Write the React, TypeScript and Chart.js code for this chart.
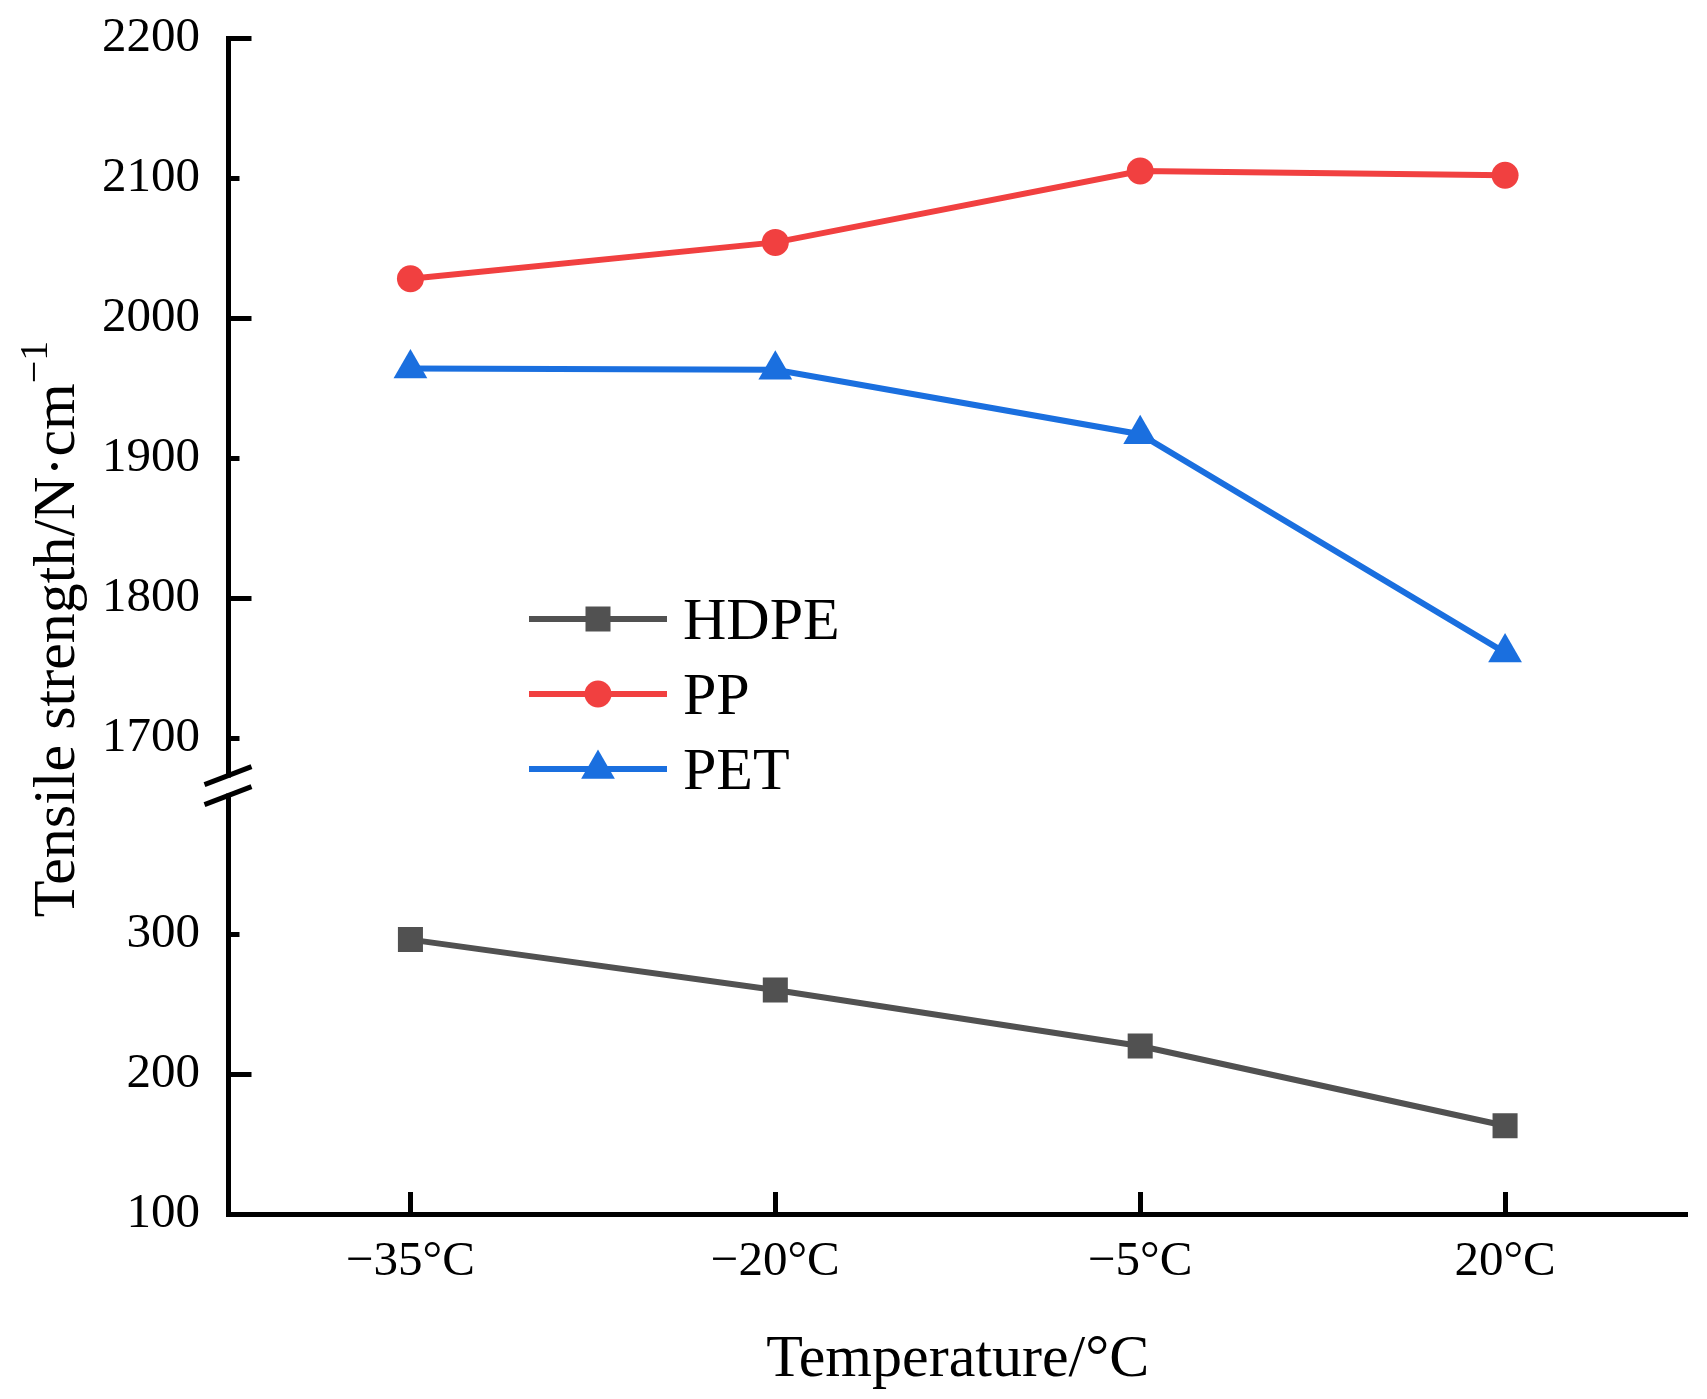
import React, { useEffect, useRef } from 'react';
import { Chart, registerables } from 'chart.js';

Chart.register(...registerables);

// ---- data ----
const categories = ['−35°C', '−20°C', '−5°C', '20°C'];
const hdpeValues = [296, 260, 220, 163];
const ppValues = [2028, 2054, 2105, 2102];
const petValues = [1964, 1963, 1917, 1761];
const upperTicks = [1700, 1800, 1900, 2000, 2100, 2200];
const lowerTicks = [100, 200, 300];
const upperRange = [1666, 2200];
const lowerRange = [100, 406];
const seriesNames = ['HDPE', 'PP', 'PET'];
const xTitle = 'Temperature/°C';
const yTitleMain = 'Tensile strength/N·cm';
const yTitleSup = '−1';

const FONT = "'Liberation Serif', 'Times New Roman', serif";
const GRAY = '#515151';
const RED = '#F14040';
const BLUE = '#1A6FDF';
const COLORS = [GRAY, RED, BLUE];
const STYLES = ['rect', 'circle', 'triangle'];

function drawMarker(ctx: CanvasRenderingContext2D, style: string, x: number, y: number, color: string) {
  ctx.fillStyle = color;
  ctx.beginPath();
  if (style === 'rect') {
    const h = 12.5;
    ctx.rect(x - h, y - h, 2 * h, 2 * h);
  } else if (style === 'circle') {
    ctx.arc(x, y, 13.5, 0, Math.PI * 2);
  } else {
    const r = 19.5;
    for (let i = 0; i < 3; i++) {
      const a = (i * 2 * Math.PI) / 3;
      const px = x + Math.sin(a) * r;
      const py = y - Math.cos(a) * r;
      if (i === 0) ctx.moveTo(px, py);
      else ctx.lineTo(px, py);
    }
    ctx.closePath();
  }
  ctx.fill();
}

const decorPlugin = {
  id: 'decor',
  afterDraw(chart: any) {
    const ctx: CanvasRenderingContext2D = chart.ctx;
    const area = chart.chartArea;
    const yTop = chart.scales.yTop;
    const yBot = chart.scales.yBot;
    const xs = chart.scales.x;
    const axisX = area.left + 0.5;
    ctx.save();
    ctx.strokeStyle = '#000';
    ctx.lineWidth = 5;
    ctx.lineCap = 'butt';

    // inside y ticks
    const drawY = (scale: any, vals: number[]) => {
      vals.forEach((v) => {
        const py = Math.round(scale.getPixelForValue(v)) + 0.5;
        const len = v % 200 === 0 ? 23 : 11;
        ctx.beginPath();
        ctx.moveTo(axisX, py);
        ctx.lineTo(axisX + len, py);
        ctx.stroke();
      });
    };
    drawY(yTop, upperTicks);
    drawY(yBot, lowerTicks);

    // inside x ticks
    categories.forEach((_, i) => {
      const px = Math.round(xs.getPixelForValue(i)) + 0.5;
      ctx.beginPath();
      ctx.moveTo(px, area.bottom);
      ctx.lineTo(px, area.bottom - 22);
      ctx.stroke();
    });

    // axis break
    const B = yTop.bottom;
    ctx.fillStyle = '#fff';
    ctx.fillRect(axisX - 6, B - 8, 12, 16);
    ctx.lineWidth = 5;
    [-10, 10].forEach((off) => {
      ctx.beginPath();
      ctx.moveTo(axisX - 24, B + off + 9);
      ctx.lineTo(axisX + 23, B + off - 9);
      ctx.stroke();
    });

    // legend
    const lx0 = area.left + 301;
    const lx1 = area.left + 439;
    const mx = area.left + 370;
    const tx = area.left + 455;
    const rows = [619, 694, 769];
    ctx.font = `60px ${FONT}`;
    ctx.textAlign = 'left';
    ctx.textBaseline = 'alphabetic';
    seriesNames.forEach((name, i) => {
      const ry = rows[i];
      ctx.strokeStyle = COLORS[i];
      ctx.lineWidth = 6;
      ctx.beginPath();
      ctx.moveTo(lx0, ry);
      ctx.lineTo(lx1, ry);
      ctx.stroke();
      drawMarker(ctx, STYLES[i], mx, ry, COLORS[i]);
      ctx.fillStyle = '#000';
      ctx.fillText(name, tx, ry + 20);
    });

    // x title
    ctx.fillStyle = '#000';
    ctx.font = `60px ${FONT}`;
    ctx.textAlign = 'center';
    ctx.fillText(xTitle, (area.left + area.right) / 2, 1376);

    // y title (rotated) with superscript
    ctx.font = `60px ${FONT}`;
    const wMain = ctx.measureText(yTitleMain).width;
    ctx.font = `40px ${FONT}`;
    const wSup = ctx.measureText(yTitleSup).width;
    const total = wMain + wSup;
    ctx.translate(74, (area.top + area.bottom) / 2 + 3);
    ctx.rotate(-Math.PI / 2);
    ctx.textAlign = 'left';
    ctx.font = `60px ${FONT}`;
    ctx.fillText(yTitleMain, -total / 2, 0);
    ctx.font = `40px ${FONT}`;
    ctx.fillText(yTitleSup, -total / 2 + wMain, -27);
    ctx.restore();
  },
};

export default function App() {
  const ref = useRef<HTMLCanvasElement | null>(null);

  useEffect(() => {
    if (!ref.current) return;
    const tickFont = { family: FONT, size: 49 };
    const yFit = (s: any) => {
      s.width = 228;
      s.paddingTop = 0;
      s.paddingBottom = 0;
    };
    const chart = new Chart(ref.current, {
      type: 'line',
      data: {
        labels: categories,
        datasets: [
          {
            label: seriesNames[0],
            data: hdpeValues,
            yAxisID: 'yBot',
            borderColor: GRAY,
            backgroundColor: GRAY,
            pointBackgroundColor: GRAY,
            borderWidth: 6,
            pointStyle: 'rect',
            pointRadius: 17.7,
            pointHoverRadius: 17.7,
            pointBorderWidth: 0,
          },
          {
            label: seriesNames[1],
            data: ppValues,
            yAxisID: 'yTop',
            borderColor: RED,
            backgroundColor: RED,
            pointBackgroundColor: RED,
            borderWidth: 6,
            pointStyle: 'circle',
            pointRadius: 13.5,
            pointHoverRadius: 13.5,
            pointBorderWidth: 0,
          },
          {
            label: seriesNames[2],
            data: petValues,
            yAxisID: 'yTop',
            borderColor: BLUE,
            backgroundColor: BLUE,
            pointBackgroundColor: BLUE,
            borderWidth: 6,
            pointStyle: 'triangle',
            pointRadius: 19.5,
            pointHoverRadius: 19.5,
            pointBorderWidth: 0,
          },
        ],
      },
      options: {
        animation: false,
        responsive: false,
        devicePixelRatio: 1,
        events: [],
        layout: { padding: { left: 0, right: 17, top: 38, bottom: 0 } },
        plugins: {
          legend: { display: false },
          tooltip: { enabled: false },
        },
        scales: {
          x: {
            type: 'category',
            offset: true,
            grid: { display: false, drawTicks: false },
            border: { display: true, color: '#000', width: 5 },
            ticks: { font: tickFont, color: '#000', padding: 19, autoSkip: false, maxRotation: 0 },
            afterFit: (s: any) => {
              s.height = 185;
              s.paddingLeft = 0;
              s.paddingRight = 0;
            },
          },
          yTop: {
            type: 'linear',
            position: 'left',
            stack: 'ybreak',
            stackWeight: upperRange[1] - upperRange[0],
            weight: 1,
            min: upperRange[0],
            max: upperRange[1],
            grid: { display: false, drawTicks: false },
            border: { display: true, color: '#000', width: 5 },
            ticks: {
              font: tickFont,
              color: '#000',
              padding: 28,
              autoSkip: false,
              callback: (v: any) => String(v),
            },
            afterBuildTicks: (s: any) => {
              s.ticks = upperTicks.map((v) => ({ value: v }));
            },
            afterFit: yFit,
          },
          yBot: {
            type: 'linear',
            position: 'left',
            stack: 'ybreak',
            stackWeight: lowerRange[1] - lowerRange[0],
            weight: 0,
            min: lowerRange[0],
            max: lowerRange[1],
            grid: { display: false, drawTicks: false },
            border: { display: true, color: '#000', width: 5 },
            ticks: {
              font: tickFont,
              color: '#000',
              padding: 28,
              autoSkip: false,
              callback: (v: any) => String(v),
            },
            afterBuildTicks: (s: any) => {
              s.ticks = lowerTicks.map((v) => ({ value: v }));
            },
            afterFit: yFit,
          },
        },
      } as any,
      plugins: [decorPlugin],
    });
    return () => chart.destroy();
  }, []);

  return (
    <div style={{ position: 'absolute', left: 0, top: 0, width: 1707, height: 1399, background: '#fff' }}>
      <canvas ref={ref} width={1707} height={1399} style={{ width: 1707, height: 1399, display: 'block' }} />
    </div>
  );
}
